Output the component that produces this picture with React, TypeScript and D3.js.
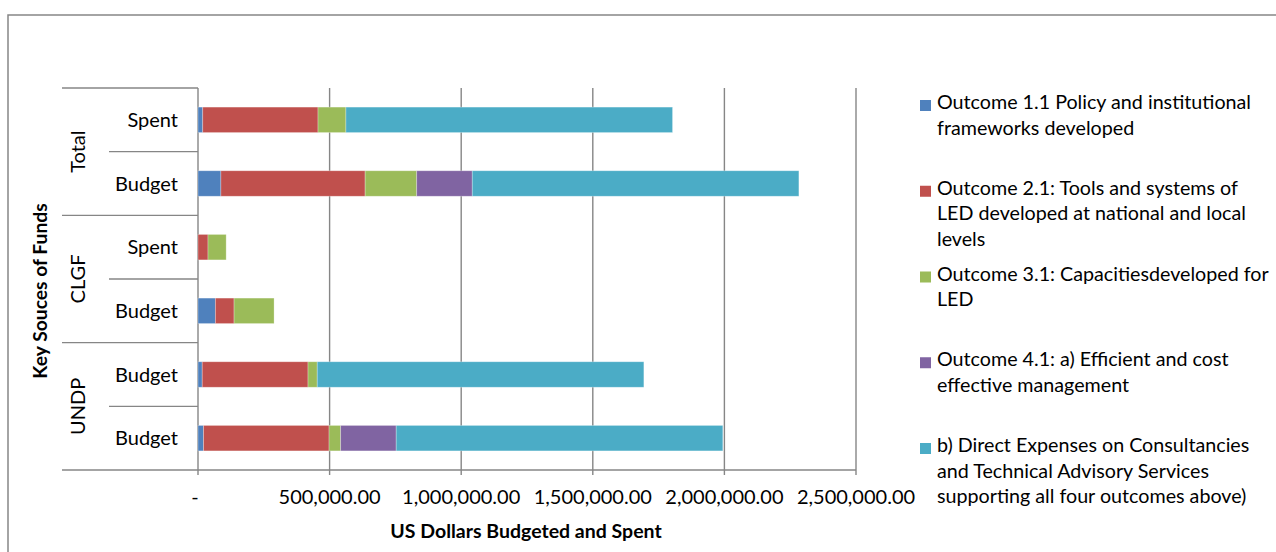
import React from "react";
import * as d3 from "d3";

const groups = ["Total", "CLGF", "UNDP"];
const categories = ["Spent", "Budget", "Spent", "Budget", "Budget", "Budget"];
const categoryGroup = ["Total", "Total", "CLGF", "CLGF", "UNDP", "UNDP"];

const seriesNames = [
  "Outcome 1.1 Policy and institutional frameworks developed",
  "Outcome 2.1: Tools and systems of LED developed at national and local levels",
  "Outcome 3.1: Capacitiesdeveloped for LED",
  "Outcome 4.1: a) Efficient and cost effective management",
  "b) Direct Expenses on Consultancies and Technical Advisory Services supporting all four outcomes above)",
];
const legendLines = [
  ["Outcome 1.1 Policy and institutional", "frameworks developed"],
  ["Outcome 2.1: Tools and systems of", "LED developed at national and local", "levels"],
  ["Outcome 3.1: Capacitiesdeveloped for", "LED"],
  ["Outcome 4.1: a) Efficient and cost", "effective management"],
  ["b) Direct Expenses on Consultancies", "and Technical Advisory Services", "supporting all four outcomes above)"],
];
const seriesColors = ["#4F81BD", "#C0504D", "#9BBB59", "#8064A2", "#4BACC6"];

const outcome11 = [18000, 87000, 0, 66000, 16000, 21000];
const outcome21 = [438000, 548000, 38000, 71000, 402000, 477000];
const outcome31 = [106000, 196000, 69000, 152000, 35000, 44000];
const outcome41 = [0, 211000, 0, 0, 0, 211000];
const directExp = [1241000, 1241000, 0, 0, 1241000, 1241000];
const seriesValues = [outcome11, outcome21, outcome31, outcome41, directExp];

const xTicks = [0, 500000, 1000000, 1500000, 2000000, 2500000];
const xTickLabels = ["-", "500,000.00", "1,000,000.00", "1,500,000.00", "2,000,000.00", "2,500,000.00"];

const W = 1276;
const H = 552;
const FONT = "Lato, Calibri, 'Open Sans', sans-serif";
const GRID = "#868686";

export default function App() {
  const left = 198, right = 856, top = 88, bottom = 470;
  const x = d3.scaleLinear().domain([0, 2500000]).range([left, right]);
  const idx = categories.map((_, i) => String(i));
  const y = d3.scaleBand().domain(idx).range([top, bottom]).paddingInner(0.6).paddingOuter(0.3);
  const step = (bottom - top) / categories.length;

  const rows = categories.map((_, i) => {
    const r: any = { key: String(i), group: categoryGroup[i] };
    seriesValues.forEach((s, j) => (r["s" + j] = s[i]));
    return r;
  });
  const stack = d3.stack().keys(seriesValues.map((_, j) => "s" + j))(rows);

  const fs = 20;
  const legendFs = 19.7;
  const legendX = 920;
  const legendTop = 109;
  const legendStep = 85.75;
  const lineH = 25.6;

  return (
    <svg width={W} height={H} style={{ position: "absolute", left: 0, top: 0, background: "#fff" }} fontFamily={FONT}>
      <rect x={8} y={15} width={W + 10} height={H + 10} fill="#fff" stroke={GRID} strokeWidth={1.5} />
      {/* gridlines */}
      {xTicks.map((t) => (
        <line key={"g" + t} x1={x(t)} x2={x(t)} y1={top} y2={bottom} stroke={GRID} strokeWidth={1.4} />
      ))}
      {/* x axis line */}
      <line x1={62} x2={right} y1={bottom} y2={bottom} stroke={GRID} strokeWidth={1.4} />
      {xTicks.map((t) => (
        <line key={"t" + t} x1={x(t)} x2={x(t)} y1={bottom} y2={bottom + 5} stroke={GRID} strokeWidth={1.4} />
      ))}
      {/* category separators */}
      {d3.range(categories.length).map((i) => {
        const yy = top + i * step;
        const isGroup = i % 2 === 0;
        return <line key={"c" + i} x1={isGroup ? 62 : 109} x2={left} y1={yy} y2={yy} stroke={GRID} strokeWidth={1.4} />;
      })}
      {/* bars */}
      {stack.map((layer, j) => (
        <g key={"s" + j} fill={seriesColors[j]}>
          {layer.map((d, i) =>
            d[1] - d[0] > 0 ? (
              <rect
                key={i}
                x={x(d[0])}
                y={y(String(i))}
                width={x(d[1]) - x(d[0])}
                height={y.bandwidth()}
                stroke="#ffffff"
                strokeOpacity={0.35}
                strokeWidth={0.8}
              />
            ) : null
          )}
        </g>
      ))}
      {/* category labels */}
      {categories.map((c, i) => (
        <text key={"cl" + i} x={178} y={(y(String(i)) as number) + y.bandwidth() / 2} dy="0.35em" textAnchor="end" fontSize={fs} fill="#000">
          {c}
        </text>
      ))}
      {groups.map((g, gi) => {
        const cy = top + step * (gi * 2 + 1);
        return (
          <text key={g} transform={`translate(78,${cy}) rotate(-90)`} textAnchor="middle" dy="0.35em" fontSize={fs} fill="#000">
            {g}
          </text>
        );
      })}
      <text transform={`translate(40,291) rotate(-90)`} textAnchor="middle" dy="0.35em" fontSize={19.3} fontWeight="bold" fill="#000">
        Key Souces of Funds
      </text>
      {/* x tick labels */}
      {xTicks.map((t, i) => (
        <text key={"xl" + t} x={i === 0 ? x(t) - 3 : x(t)} y={504} textAnchor="middle" fontSize={fs} fill="#000">
          {xTickLabels[i]}
        </text>
      ))}
      <text x={526} y={538} textAnchor="middle" fontSize={19.5} fontWeight="bold" fill="#000">
        US Dollars Budgeted and Spent
      </text>
      {/* legend */}
      {legendLines.map((lines, j) => {
        const by = legendTop + j * legendStep;
        return (
          <g key={"lg" + j}>
            <rect x={legendX} y={by - 9} width={11} height={11} fill={seriesColors[j]} />
            <text x={legendX + 17} y={by} fontSize={legendFs} fill="#000">
              <title>{seriesNames[j]}</title>
              {lines.map((ln, k) => (
                <tspan key={k} x={legendX + 17} y={by + k * lineH}>
                  {ln}
                </tspan>
              ))}
            </text>
          </g>
        );
      })}
    </svg>
  );
}
